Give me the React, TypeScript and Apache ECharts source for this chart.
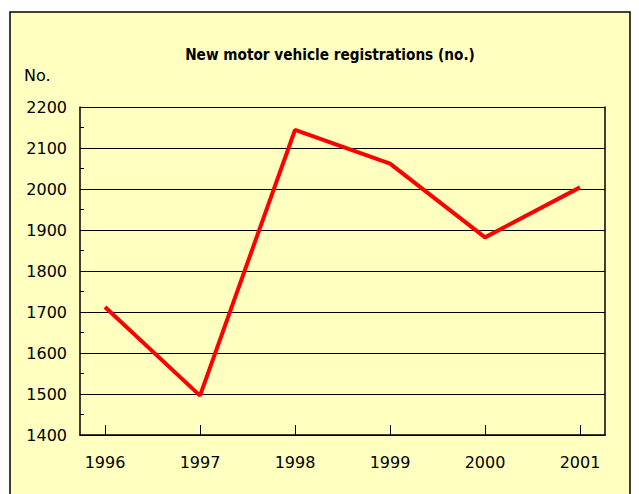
import React, { useEffect, useRef } from "react";
import * as echarts from "echarts";

const years = [1996, 1997, 1998, 1999, 2000, 2001];
const registrations = [1712, 1496, 2144, 2062, 1882, 2004];
const yTicks = [1400, 1500, 1600, 1700, 1800, 1900, 2000, 2100, 2200];

export default function App() {
  const ref = useRef<HTMLDivElement>(null);
  useEffect(() => {
    if (!ref.current) return;
    const chart = echarts.init(ref.current, null, { renderer: "svg" });
    const font = "'DejaVu Sans', sans-serif";
    chart.setOption({
      animation: false,
      backgroundColor: "#ffffff",
      graphic: [
        {
          type: "rect",
          z: -10,
          shape: { x: 10, y: 12, width: 620, height: 500 },
          style: { fill: "#FFFFC0", stroke: "#000000", lineWidth: 1.5 },
        },
        {
          type: "text",
          left: 24,
          top: 67,
          style: { text: "No.", fontSize: 16, fontFamily: font, fill: "#000" },
        },
      ],
      title: {
        text: "New motor vehicle registrations (no.)",
        left: 325,
        top: 42,
        textAlign: "center",
        textStyle: {
          fontSize: 15.2,
          fontWeight: "bold",
          fontFamily: "'DejaVu Sans Condensed', 'Liberation Sans Narrow', sans-serif",
          color: "#000",
        },
      },
      grid: { left: 80, top: 107, width: 525, height: 328 },
      xAxis: {
        type: "value",
        min: years[0] - 25 / 95,
        max: years[years.length - 1] + 25 / 95,
        splitLine: { show: false },
        axisLine: { show: true, lineStyle: { color: "#000", width: 1.5 } },
        axisTick: {
          show: true,
          inside: true,
          length: 10,
          customValues: years,
          lineStyle: { color: "#000" },
        },
        axisLabel: {
          customValues: years,
          formatter: (v: number) => String(v),
          fontSize: 16,
          fontFamily: font,
          color: "#000",
          margin: 19,
        },
      },
      yAxis: [
        {
          type: "value",
          min: 1400,
          max: 2200,
          interval: 100,
          axisLine: { show: true, lineStyle: { color: "#000", width: 1.5 } },
          axisTick: { show: true, inside: true, length: 4, lineStyle: { color: "#000" } },
          minorTick: { show: true, splitNumber: 2, length: 4, lineStyle: { color: "#000" } },
          splitLine: { show: true, lineStyle: { color: "#000", width: 1 } },
          axisLabel: {
            customValues: yTicks,
            formatter: (v: number) => String(v),
            fontSize: 16,
            fontFamily: font,
            color: "#000",
            margin: 13,
          },
        },
        {
          type: "value",
          position: "right",
          min: 1400,
          max: 2200,
          interval: 100,
          axisLine: { show: true, lineStyle: { color: "#000", width: 1.5 } },
          axisTick: { show: false },
          axisLabel: { show: false },
          splitLine: { show: false },
        },
      ],
      series: [
        {
          type: "line",
          data: years.map((y, i) => [y, registrations[i]]),
          symbol: "none",
          lineStyle: { color: "#FF0000", width: 4 },
          z: 5,
        },
      ],
    });
    return () => chart.dispose();
  }, []);
  return (
    <div
      ref={ref}
      style={{ position: "absolute", left: 0, top: 0, width: 639, height: 494 }}
    />
  );
}
